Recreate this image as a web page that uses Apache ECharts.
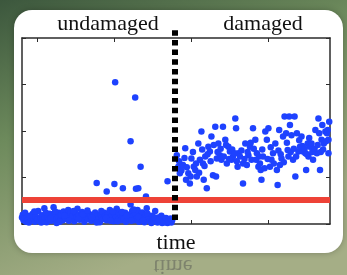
<!DOCTYPE html>
<html>
<head>
<meta charset="utf-8">
<script src="https://cdn.jsdelivr.net/npm/echarts@6/dist/echarts.min.js"></script>
<style>
html, body { margin: 0; padding: 0; }
#chart { width: 347px; height: 275px; }
</style>
</head>
<body>
<div id="chart"></div>
<script>
// regions above the plot
const regionNames = ['undamaged', 'damaged']
const xTicks = [20, 120, 220, 320]
const changeTime = 198
const threshold = 0.52

// [time, feature]
const undamaged = [
  [0, 0.14], [1, 0.2], [2, 0.08], [3, 0.12], [5, 0.05], [6, 0.17], [8, 0.1], [9, 0.03], [11, 0.15], [12, 0.08],
  [14, 0.22], [15, 0.12], [17, 0.05], [18, 0.16], [20, 0.1], [21, 0.28], [23, 0.06], [24, 0.14], [26, 0.19], [27, 0.09],
  [29, 0.34], [30, 0.13], [32, 0.04], [33, 0.18], [35, 0.1], [36, 0.22], [38, 0.07], [39, 0.15], [41, 0.36], [42, 0.2],
  [44, 0.1], [45, 0.02], [47, 0.16], [48, 0.24], [50, 0.12], [51, 0.19], [53, 0.08], [54, 0.27], [56, 0.14], [57, 0.21],
  [59, 0.1], [60, 0.3], [62, 0.17], [63, 0.25], [65, 0.11], [66, 0.19], [68, 0.06], [69, 0.23], [71, 0.14], [72, 0.33],
  [74, 0.2], [75, 0.09], [77, 0.17], [78, 0.26], [80, 0.12], [81, 0.05], [83, 0.2], [84, 0.14], [86, 0.1], [87, 0.22],
  [89, 0.16], [90, 0.07], [92, 0.19], [93, 0.13], [95, 0.25], [96, 0.09], [98, 0.18], [99, 0.11], [101, 0.04], [102, 0.21],
  [104, 0.15], [105, 0.1], [107, 0.24], [108, 0.17], [110, 0.08], [111, 0.2], [113, 0.13], [114, 0.3], [116, 0.1], [117, 0.18],
  [119, 0.06], [120, 0.23], [122, 0.15], [123, 0.33], [125, 0.27], [126, 0.12], [128, 0.2], [129, 0.08], [131, 0.17], [132, 0.11],
  [134, 0.24], [135, 0.05], [137, 0.14], [138, 0.2], [140, 0.1], [141, 0.42], [143, 0.28], [144, 0.16], [146, 0.08], [147, 0.22],
  [149, 0.12], [150, 0.3], [152, 0.05], [153, 0.18], [155, 0.1], [156, 0.25], [158, 0.14], [159, 0.04], [161, 0.2], [162, 0.34],
  [164, 0.11], [165, 0.07], [167, 0.16], [168, 0.02], [170, 0.12], [171, 0.06], [173, 0.28], [174, 0.09], [176, 0.03], [177, 0.14],
  [179, 0.05], [180, 0.1], [182, 0.02], [183, 0.08], [185, 0.12], [186, 0.04], [188, 0.07], [189, 0.02], [191, 0.1], [192, 0.05],
  [194, 0.03], [195, 0.08],
  [4, 0.24], [10, 0.18], [16, 0.27], [25, 0.03], [31, 0.24], [37, 0.12], [43, 0.27], [49, 0.05], [55, 0.18], [61, 0.07],
  [67, 0.28], [73, 0.11], [79, 0.21], [85, 0.29], [91, 0.14], [97, 0.03], [103, 0.28], [109, 0.13], [115, 0.07], [118, 0.27],
  [124, 0.06], [130, 0.26], [136, 0.18], [142, 0.07], [145, 0.31], [151, 0.15], [157, 0.08], [163, 0.22], [169, 0.18], [172, 0.14],
  [178, 0.09], [181, 0.18], [184, 0.04], [187, 0.13], [190, 0.06], [193, 0.12],
  [121, 3.05], [147, 2.72], [141, 1.78], [154, 1.23], [97, 0.88], [120, 0.86], [110, 0.7], [131, 0.77], [148, 0.76], [151, 0.77],
  [161, 0.59], [189, 0.92]
]

const damaged = [
  [201, 1.48], [205, 1.09], [203, 1.23], [209, 1.27], [212, 1.63], [213, 0.95], [216, 1.09], [218, 0.87], [220, 1.41], [223, 1.23],
  [225, 1.16], [227, 1.02], [229, 1.73], [231, 1.38], [233, 1.99], [235, 1.3], [236, 0.95], [240, 0.77], [238, 1.45], [242, 1.66],
  [244, 1.56], [246, 1.88], [248, 1.05], [251, 2.09], [252, 1.02], [253, 1.41], [255, 1.73], [257, 1.48], [259, 1.38], [261, 2.09],
  [264, 1.81], [266, 1.3], [268, 1.66], [270, 1.56], [272, 1.38], [274, 1.45], [277, 2.27], [278, 2.06], [280, 1.23], [281, 1.52],
  [283, 1.45], [287, 0.87], [287, 1.3], [290, 1.73], [292, 1.27], [294, 1.48], [296, 1.66], [298, 1.38], [300, 2.06], [303, 1.81],
  [305, 1.52], [307, 1.23], [308, 1.45], [310, 1.16], [311, 0.95], [313, 1.45], [316, 1.99], [318, 1.81], [320, 2.06], [322, 1.23],
  [324, 1.38], [326, 1.52], [329, 1.73], [331, 1.16], [332, 0.84], [334, 2.02], [335, 1.27], [337, 1.41], [339, 1.88], [341, 2.31],
  [343, 1.95], [345, 1.59], [346, 1.45], [347, 2.31], [348, 2.13], [350, 1.91], [352, 1.38], [354, 2.31], [355, 1.02], [357, 1.95],
  [359, 1.56], [361, 1.66], [363, 1.88], [365, 1.56], [368, 1.52], [369, 1.16], [371, 1.73], [372, 1.45], [374, 1.66], [376, 1.73],
  [378, 1.38], [381, 2.02], [383, 1.52], [385, 2.27], [386, 1.95], [387, 1.16], [389, 1.81], [390, 2.13], [392, 1.73], [394, 1.99],
  [396, 1.95], [398, 1.81], [399, 2.2], [398, 1.52],
  [204, 1.35], [207, 1.15], [211, 1.42], [214, 1.22], [219, 1.02], [222, 1.55], [226, 1.3], [230, 1.1], [234, 1.6], [237, 1.25],
  [241, 1.5], [245, 1.35], [249, 1.7], [254, 1.55], [258, 1.62], [262, 1.45], [265, 1.7], [269, 1.4], [273, 1.6], [276, 1.52],
  [279, 1.35], [285, 1.58], [289, 1.4], [293, 1.55], [297, 1.75], [301, 1.62], [304, 1.38], [309, 1.3], [312, 1.6], [315, 1.2],
  [319, 1.4], [323, 1.65], [327, 1.3], [333, 1.58], [336, 1.5], [340, 1.33], [344, 1.75], [349, 1.55], [353, 1.62], [356, 1.45],
  [360, 1.8], [364, 1.68], [367, 1.62], [370, 1.5], [373, 1.85], [377, 1.55], [380, 1.62], [384, 1.7], [388, 1.55], [391, 1.6],
  [395, 1.78], [397, 2.02]
]

const chart = echarts.init(document.getElementById('chart'))

const serif = 'Liberation Serif'
const axisColor = '#2b2b2b'
const dotColor = '#1e42ff'

function boxAxis (pos, isX) {
  return {
    type: 'value',
    position: pos,
    gridIndex: 0,
    min: 0,
    max: isX ? 400 : 4,
    interval: isX ? undefined : 1,
    axisLine: { show: true, onZero: false, lineStyle: { color: axisColor, width: 1.5 } },
    axisTick: isX
      ? { show: true, inside: true, length: 4, customValues: xTicks, lineStyle: { color: axisColor } }
      : { show: true, inside: true, length: 4, lineStyle: { color: axisColor } },
    axisLabel: { show: false },
    splitLine: { show: false }
  }
}

const option = {
  backgroundColor: {
    type: 'linear', x: 0, y: 0, x2: 0.3, y2: 1,
    colorStops: [
      { offset: 0, color: '#3c573d' },
      { offset: 0.45, color: '#6d8a5c' },
      { offset: 1, color: '#a5ae86' }
    ]
  },
  animation: false,
  graphic: [
    {
      type: 'rect',
      z: -10,
      shape: { x: 14, y: 10, width: 329, height: 243, r: 18 },
      style: { fill: '#ffffff', shadowBlur: 6, shadowColor: 'rgba(0,0,0,0.25)' }
    },
    {
      type: 'text', x: 108, y: 24,
      style: { text: regionNames[0], fill: '#111111', font: '22px "' + serif + '"', textAlign: 'center', textVerticalAlign: 'middle' }
    },
    {
      type: 'text', x: 263, y: 24,
      style: { text: regionNames[1], fill: '#111111', font: '22px "' + serif + '"', textAlign: 'center', textVerticalAlign: 'middle' }
    },
    {
      // faded reflection under the card
      type: 'text', x: 173, y: 266, scaleY: -1,
      style: { text: 'time', fill: 'rgba(80,80,80,0.45)', font: '22px "' + serif + '"', textAlign: 'center', textVerticalAlign: 'middle' }
    }
  ],
  grid: [
    { left: 22, right: 17, top: 38, bottom: 51 },
    { left: 22, right: 17, top: 30, bottom: 55 }
  ],
  xAxis: [
    Object.assign(boxAxis('bottom', true), {
      name: 'time',
      nameLocation: 'middle',
      nameGap: 8,
      nameTextStyle: { fontFamily: serif, fontSize: 22, color: '#111111', verticalAlign: 'top' }
    }),
    boxAxis('top', true),
    { type: 'value', gridIndex: 1, min: 0, max: 400, show: false }
  ],
  yAxis: [
    boxAxis('left', false),
    boxAxis('right', false),
    { type: 'value', gridIndex: 1, min: 0, max: 1, show: false }
  ],
  series: [
    {
      type: 'scatter',
      xAxisIndex: 0,
      yAxisIndex: 0,
      data: undamaged,
      symbolSize: 6.5,
      itemStyle: { color: dotColor, opacity: 1 },
      z: 3,
      markLine: {
        silent: true,
        symbol: 'none',
        label: { show: false },
        lineStyle: { color: '#ee4237', width: 6, type: 'solid', opacity: 1 },
        data: [{ yAxis: threshold }]
      }
    },
    {
      type: 'scatter',
      xAxisIndex: 0,
      yAxisIndex: 0,
      data: damaged,
      symbolSize: 6.5,
      itemStyle: { color: dotColor, opacity: 1 },
      z: 3
    },
    {
      type: 'line',
      xAxisIndex: 2,
      yAxisIndex: 2,
      data: [],
      z: 5,
      markLine: {
        silent: true,
        symbol: 'none',
        label: { show: false },
        lineStyle: { color: '#000000', width: 6, type: [5.5, 4.2], cap: 'butt', opacity: 1 },
        data: [{ xAxis: changeTime }]
      }
    }
  ]
}

chart.setOption(option)
</script>
</body>
</html>
